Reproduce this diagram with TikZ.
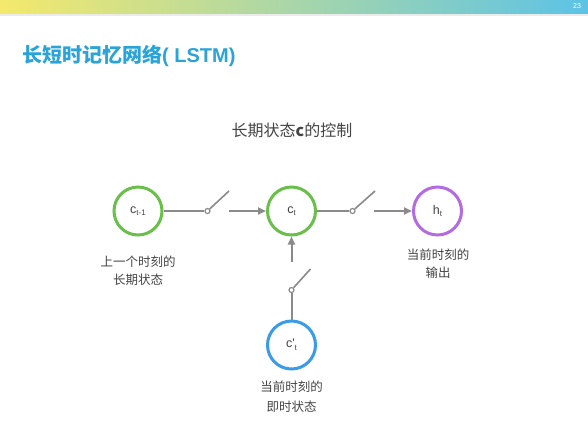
\documentclass[tikz,border=0pt]{standalone}
\usepackage{fontspec}
\setmainfont{Noto Sans CJK SC}
\newfontfamily\latinsans{Liberation Sans}
\usetikzlibrary{arrows.meta}
\definecolor{cgreen}{HTML}{6ABF4B}
\definecolor{cpurple}{HTML}{B46BE0}
\definecolor{cblue}{HTML}{3A9BE6}
\definecolor{cgray}{HTML}{8A8A8A}
\definecolor{ctitle}{HTML}{2AA3D9}
\definecolor{ctext}{HTML}{444444}
\definecolor{barY}{HTML}{F4E96C}
\definecolor{barM}{HTML}{B9DDB3}
\definecolor{barC}{HTML}{5CC3E6}
\tikzset{
  state/.style={circle, line width=3pt, minimum size=48pt, inner sep=0pt, fill=white,
    font=\latinsans\fontsize{12.5}{12}\selectfont, text=ctext},
  pivot/.style={circle, draw=cgray, line width=1.2pt, minimum size=5pt, inner sep=0pt, fill=white},
  wire/.style={draw=cgray, line width=2pt},
  arr/.style={wire, -{Triangle[length=8pt,width=7pt]}},
  lbl/.style={align=center, text=ctext, font=\fontsize{12.5}{18}\selectfont},
}
\begin{document}
\begin{tikzpicture}[x=1pt,y=-1pt]
\useasboundingbox (0,0) rectangle (588,440);
\fill[white] (0,0) rectangle (588,440);
% header bar
\shade[left color=barY, middle color=barM, right color=barC] (0,0) rectangle (588,14);
\fill[black!8] (0,14) rectangle (588,15.5);
\node[text=white, font=\latinsans\fontsize{7}{7}\selectfont] (pg) at (577,6.5) {23};
% titles
\node[anchor=west, inner sep=0pt, text=ctitle, font=\bfseries\fontsize{20}{20}\selectfont] (title) at (22,56) {长短时记忆网络{\latinsans\bfseries( LSTM)}};
\node[text=ctext, font=\fontsize{16}{16}\selectfont] (sub) at (292,130) {长期状态\textbf{c}的控制};
% states
\node[state, draw=cgreen] (ct1) at (138,211) {c\raisebox{-0.4ex}{\fontsize{8}{8}\selectfont t-1}};
\node[state, draw=cgreen] (ct) at (291.5,211) {c\raisebox{-0.4ex}{\fontsize{8}{8}\selectfont t}};
\node[state, draw=cpurple] (ht) at (437.5,211) {h\raisebox{-0.4ex}{\fontsize{8}{8}\selectfont t}};
\node[state, draw=cblue] (cp) at (291.5,345) {c'\raisebox{-0.4ex}{\fontsize{8}{8}\selectfont t}};
% switches
\node[pivot] (p1) at (207.5,211) {};
\coordinate (e1) at (229,191);
\coordinate (a1) at (228.5,211);
\node[pivot] (p2) at (352.5,211) {};
\coordinate (e2) at (375,191);
\coordinate (a2) at (373.5,211);
\node[pivot] (p3) at (291.5,290) {};
\coordinate (e3) at (310.5,269);
\coordinate (a3) at (291.5,262);
% wires
\draw[wire] (ct1) -- (p1);
\draw[wire, line width=1.6pt] (p1) -- (e1);
\draw[arr] (a1) -- (ct);
\draw[wire] (ct) -- (p2);
\draw[wire, line width=1.6pt] (p2) -- (e2);
\draw[arr] (a2) -- (ht);
\draw[wire] (cp) -- (p3);
\draw[wire, line width=1.6pt] (p3) -- (e3);
\draw[arr] (a3) -- (ct);
% labels
\node[lbl] (l1) at (138,271) {上一个时刻的\\长期状态};
\node[lbl] (l2) at (438,264) {当前时刻的\\输出};
\node[lbl, font=\fontsize{12.5}{20}\selectfont] (l3) at (291.5,397) {当前时刻的\\即时状态};
\end{tikzpicture}
\end{document}
